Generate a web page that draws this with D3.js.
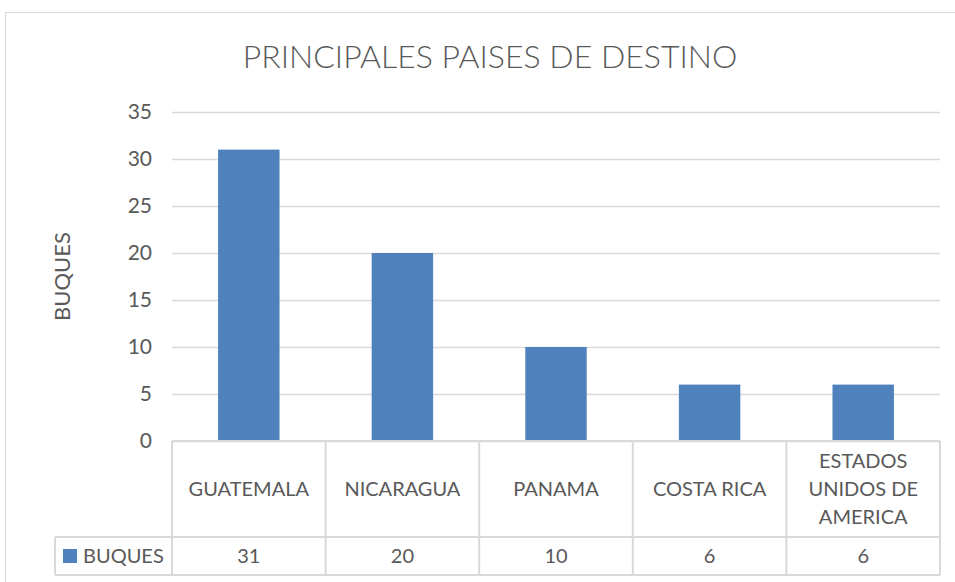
<!DOCTYPE html>
<html>
<head>
<meta charset="utf-8">
<script src="https://cdn.jsdelivr.net/npm/d3@7"></script>
<style>
  body { margin: 0; background: #fff; }
  text { font-family: Lato, "Open Sans", sans-serif; fill: #595959; }
</style>
</head>
<body>
<div id="chart"></div>
<script>
var svgWidth = 955;
var svgHeight = 582;

// data
var countries = [
  ["GUATEMALA"],
  ["NICARAGUA"],
  ["PANAMA"],
  ["COSTA RICA"],
  ["ESTADOS", "UNIDOS DE", "AMERICA"]
];
var buques = [31, 20, 10, 6, 6];
var yTicks = [0, 5, 10, 15, 20, 25, 30, 35];
var seriesName = "BUQUES";
var chartTitle = "PRINCIPALES PAISES DE DESTINO";

var plot = { left: 172, right: 940, top: 112, bottom: 441 };
var catRowBottom = 537;
var valRowBottom = 575;
var legendLeft = 55;
var barColor = "#4f81bd";
var lineColor = "#d9d9d9";

var svg = d3.select("#chart")
  .append("svg")
  .attr("width", svgWidth)
  .attr("height", svgHeight);

// chart frame
svg.append("rect")
  .attr("x", 5.5)
  .attr("y", 12.5)
  .attr("width", svgWidth)
  .attr("height", svgHeight)
  .attr("fill", "none")
  .attr("stroke", lineColor);

var xScale = d3.scaleBand()
  .domain(d3.range(countries.length))
  .range([plot.left, plot.right])
  .paddingInner(0.6)
  .paddingOuter(0.3);

var colScale = d3.scaleBand()
  .domain(d3.range(countries.length))
  .range([plot.left, plot.right]);

var yScale = d3.scaleLinear()
  .domain([0, 35])
  .range([plot.bottom, plot.top]);

// gridlines
var leftAxis = d3.axisLeft(yScale)
  .tickValues(yTicks)
  .tickSize(-(plot.right - plot.left))
  .tickPadding(20);

var yAxis = svg.append("g")
  .attr("transform", `translate(${plot.left}, 0)`)
  .call(leftAxis);

yAxis.select(".domain").remove();
yAxis.selectAll(".tick line")
  .attr("stroke", lineColor)
  .attr("stroke-width", 1.3);
yAxis.selectAll(".tick text")
  .style("font-size", "21px")
  .attr("fill", "#595959");

// bars
svg.append("g")
  .selectAll("rect")
  .data(buques)
  .enter()
  .append("rect")
  .attr("x", (d, i) => xScale(i))
  .attr("y", d => yScale(d))
  .attr("width", xScale.bandwidth())
  .attr("height", d => yScale(0) - yScale(d))
  .attr("fill", barColor);

// data table
var table = svg.append("g")
  .attr("stroke", lineColor)
  .attr("stroke-width", 2)
  .attr("fill", "none");

table.append("line")
  .attr("x1", plot.left).attr("x2", plot.right)
  .attr("y1", plot.bottom).attr("y2", plot.bottom);
table.append("line")
  .attr("x1", legendLeft).attr("x2", plot.right)
  .attr("y1", catRowBottom).attr("y2", catRowBottom);
table.append("line")
  .attr("x1", legendLeft).attr("x2", plot.right)
  .attr("y1", valRowBottom).attr("y2", valRowBottom);
table.append("line")
  .attr("x1", legendLeft).attr("x2", legendLeft)
  .attr("y1", catRowBottom).attr("y2", valRowBottom);

table.selectAll(".col")
  .data(d3.range(countries.length + 1))
  .enter()
  .append("line")
  .attr("x1", i => i < countries.length ? colScale(i) : plot.right)
  .attr("x2", i => i < countries.length ? colScale(i) : plot.right)
  .attr("y1", plot.bottom)
  .attr("y2", valRowBottom);

// category labels
var catMid = (plot.bottom + catRowBottom) / 2;
var lineH = 28;
svg.append("g")
  .selectAll("text")
  .data(countries)
  .enter()
  .append("text")
  .attr("text-anchor", "middle")
  .style("font-size", "20px")
  .each(function (lines, i) {
    var t = d3.select(this);
    var x = colScale(i) + colScale.bandwidth() / 2;
    lines.forEach((ln, k) => {
      t.append("tspan")
        .attr("x", x)
        .attr("y", catMid + (k - (lines.length - 1) / 2) * lineH)
        .attr("dy", "0.35em")
        .text(ln);
    });
  });

// values row
var valMid = (catRowBottom + valRowBottom) / 2;
svg.append("g")
  .selectAll("text")
  .data(buques)
  .enter()
  .append("text")
  .attr("x", (d, i) => colScale(i) + colScale.bandwidth() / 2)
  .attr("y", valMid)
  .attr("dy", "0.35em")
  .attr("text-anchor", "middle")
  .style("font-size", "20px")
  .text(d => d);

// legend key
svg.append("rect")
  .attr("x", 63)
  .attr("y", valMid - 7)
  .attr("width", 14)
  .attr("height", 14)
  .attr("fill", barColor);

svg.append("text")
  .attr("x", 83)
  .attr("y", valMid)
  .attr("dy", "0.35em")
  .style("font-size", "20px")
  .text(seriesName);

// axis title
svg.append("text")
  .attr("transform", `translate(62, ${(plot.top + plot.bottom) / 2}) rotate(-90)`)
  .attr("dy", "0.35em")
  .attr("text-anchor", "middle")
  .style("font-size", "22px")
  .text(seriesName);

// chart title
svg.append("text")
  .attr("x", 490)
  .attr("y", 57)
  .attr("dy", "0.35em")
  .attr("text-anchor", "middle")
  .style("font-size", "32px")
  .style("font-weight", 300)
  .text(chartTitle);
</script>
</body>
</html>
